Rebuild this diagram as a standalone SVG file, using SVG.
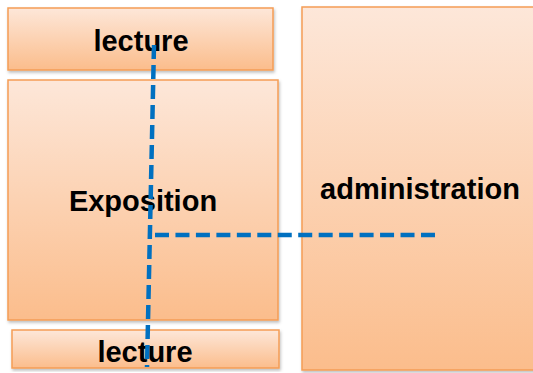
<svg xmlns="http://www.w3.org/2000/svg" width="533" height="373" viewBox="0 0 533 373">
<defs>
<linearGradient id="g" x1="0" y1="0" x2="0" y2="1">
<stop offset="0" stop-color="#fde7d9"/>
<stop offset="1" stop-color="#fbbd8c"/>
</linearGradient>
<filter id="sh" x="-10%" y="-10%" width="120%" height="120%">
<feDropShadow dx="1" dy="2" stdDeviation="1.5" flood-color="#000" flood-opacity="0.25"/>
</filter>
<style>
.box{fill:url(#g);stroke:#f59d56;stroke-width:1.5;filter:url(#sh)}
.t{font-family:"Liberation Sans",Arial,sans-serif;font-weight:bold;font-size:29px;fill:#000;text-anchor:middle}
.c{stroke:#0070c0;stroke-width:4.5;fill:none}
</style>
</defs>
<g id="lecture-top"><rect class="box" x="8" y="8" width="265" height="62"/><text class="t" x="141" y="51">lecture</text></g>
<g id="exposition"><rect class="box" x="8" y="80" width="270" height="240"/><text class="t" x="143" y="211">Exposition</text></g>
<g id="lecture-bottom"><rect class="box" x="12" y="330" width="267" height="38"/><text class="t" x="145" y="362">lecture</text></g>
<g id="administration"><rect class="box" x="302" y="7" width="240" height="363"/><text class="t" x="420" y="199">administration</text></g>
<g id="connectors">
<path class="c" stroke-dasharray="14 6" d="M154 45 L147 367"/>
<path class="c" stroke-dasharray="14 6.46" d="M155 235 L435 235"/>
</g>
</svg>
